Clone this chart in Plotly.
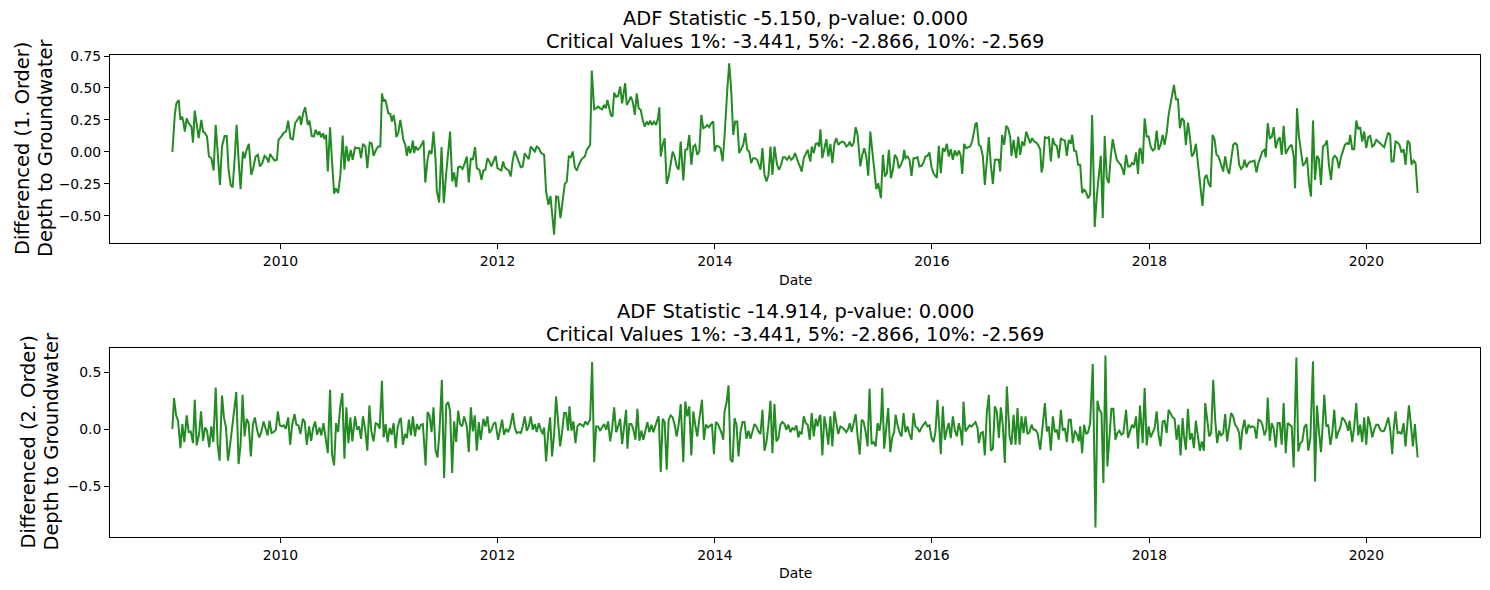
import datetime as dt
import plotly.graph_objects as go

# ---------------- data ----------------
# decimal years / values of the 1st-order differenced series
top_years = [
    2009.004, 2009.026, 2009.041, 2009.062, 2009.078, 2009.093, 2009.105, 2009.118, 2009.136, 2009.154,
    2009.179, 2009.194, 2009.210, 2009.228, 2009.246, 2009.271, 2009.286, 2009.301, 2009.323, 2009.341,
    2009.363, 2009.384, 2009.403, 2009.424, 2009.442, 2009.461, 2009.485, 2009.504, 2009.522, 2009.541,
    2009.559, 2009.577, 2009.596, 2009.614, 2009.632, 2009.654, 2009.669, 2009.688, 2009.709, 2009.731,
    2009.749, 2009.770, 2009.792, 2009.810, 2009.832, 2009.853, 2009.875, 2009.890, 2009.905, 2009.924,
    2009.945, 2009.967, 2009.982, 2010.006, 2010.031, 2010.052, 2010.071, 2010.092, 2010.114, 2010.135,
    2010.160, 2010.178, 2010.190, 2010.209, 2010.227, 2010.252, 2010.267, 2010.288, 2010.307, 2010.325,
    2010.344, 2010.359, 2010.374, 2010.393, 2010.405, 2010.420, 2010.436, 2010.457, 2010.475, 2010.494,
    2010.509, 2010.531, 2010.552, 2010.573, 2010.589, 2010.607, 2010.626, 2010.647, 2010.665, 2010.687,
    2010.708, 2010.727, 2010.742, 2010.760, 2010.782, 2010.800, 2010.822, 2010.840, 2010.858, 2010.880,
    2010.901, 2010.920,
    2010.935, 2010.950, 2010.963, 2010.975, 2010.993, 2011.012, 2011.027, 2011.042, 2011.058, 2011.067,
    2011.085, 2011.104, 2011.119, 2011.131, 2011.150, 2011.165, 2011.180, 2011.196, 2011.208, 2011.220,
    2011.232, 2011.245, 2011.263, 2011.281, 2011.300, 2011.318, 2011.334, 2011.355, 2011.373, 2011.392,
    2011.410, 2011.429, 2011.441, 2011.462, 2011.484, 2011.505, 2011.527, 2011.545, 2011.563, 2011.582,
    2011.600, 2011.619, 2011.637, 2011.655, 2011.677, 2011.698, 2011.717, 2011.735, 2011.754, 2011.772,
    2011.793, 2011.809, 2011.833, 2011.852, 2011.870, 2011.888, 2011.907, 2011.925, 2011.944, 2011.962,
    2011.983, 2011.999, 2012.017, 2012.035, 2012.051, 2012.066, 2012.085, 2012.103, 2012.121, 2012.140,
    2012.158, 2012.176, 2012.195, 2012.213, 2012.232, 2012.250, 2012.268, 2012.287, 2012.305, 2012.324,
    2012.342, 2012.360, 2012.379, 2012.397, 2012.416, 2012.428, 2012.446, 2012.468, 2012.486, 2012.501,
    2012.520, 2012.538, 2012.557, 2012.578, 2012.599, 2012.618, 2012.636, 2012.655, 2012.673, 2012.691,
    2012.710, 2012.728, 2012.747, 2012.765, 2012.783, 2012.802, 2012.820, 2012.839,
    2012.851, 2012.866, 2012.888, 2012.906, 2012.924, 2012.943, 2012.961, 2012.980, 2012.995, 2013.010,
    2013.026, 2013.041, 2013.056, 2013.072, 2013.090, 2013.108, 2013.127, 2013.145, 2013.157, 2013.173,
    2013.188, 2013.206, 2013.225, 2013.243, 2013.262, 2013.280, 2013.298, 2013.317, 2013.335, 2013.353,
    2013.372, 2013.390, 2013.403, 2013.421, 2013.439, 2013.458, 2013.476, 2013.488, 2013.501, 2013.519,
    2013.537, 2013.556, 2013.574, 2013.593, 2013.611, 2013.629, 2013.648, 2013.666, 2013.685, 2013.709,
    2013.727, 2013.746, 2013.764, 2013.783, 2013.801, 2013.819, 2013.838, 2013.856, 2013.875, 2013.893,
    2013.911, 2013.930, 2013.948, 2013.966, 2013.985, 2013.997, 2014.015, 2014.034, 2014.052, 2014.071,
    2014.089, 2014.114, 2014.132, 2014.150, 2014.169, 2014.187, 2014.206, 2014.224, 2014.242, 2014.261,
    2014.279, 2014.298, 2014.316, 2014.334, 2014.353, 2014.371, 2014.389, 2014.408, 2014.420, 2014.438,
    2014.457, 2014.475, 2014.494, 2014.512, 2014.530, 2014.549, 2014.573, 2014.592, 2014.610, 2014.628,
    2014.647, 2014.665, 2014.684, 2014.702, 2014.720, 2014.739, 2014.757, 2014.776,
    2014.782, 2014.800, 2014.819, 2014.837, 2014.855, 2014.868, 2014.880, 2014.892, 2014.911, 2014.929,
    2014.947, 2014.960, 2014.972, 2014.990, 2015.009, 2015.027, 2015.045, 2015.064, 2015.082, 2015.101,
    2015.119, 2015.137, 2015.156, 2015.174, 2015.193, 2015.211, 2015.229, 2015.242, 2015.260, 2015.278,
    2015.297, 2015.315, 2015.327, 2015.340, 2015.358, 2015.376, 2015.395, 2015.413, 2015.432, 2015.450,
    2015.468, 2015.487, 2015.505, 2015.517, 2015.530, 2015.548, 2015.566, 2015.585, 2015.603, 2015.622,
    2015.640, 2015.658, 2015.677, 2015.695, 2015.714, 2015.732, 2015.744, 2015.756, 2015.775, 2015.793,
    2015.812, 2015.830, 2015.848, 2015.867, 2015.885, 2015.904, 2015.922, 2015.940, 2015.959, 2015.977,
    2015.996, 2016.014, 2016.032, 2016.045, 2016.063, 2016.081, 2016.100, 2016.118, 2016.137, 2016.155,
    2016.173, 2016.192, 2016.210, 2016.229, 2016.247, 2016.265, 2016.278, 2016.296, 2016.314, 2016.333,
    2016.351, 2016.369, 2016.382, 2016.400, 2016.412, 2016.431, 2016.449, 2016.468, 2016.486, 2016.504,
    2016.523, 2016.541, 2016.560, 2016.578, 2016.596, 2016.615, 2016.627, 2016.645, 2016.664, 2016.682,
    2016.700, 2016.719,
    2016.731, 2016.750, 2016.762, 2016.774, 2016.793, 2016.811, 2016.829, 2016.848, 2016.866, 2016.884,
    2016.903, 2016.921, 2016.940, 2016.958, 2016.976, 2016.995, 2017.007, 2017.019, 2017.038, 2017.056,
    2017.074, 2017.093, 2017.111, 2017.130, 2017.148, 2017.166, 2017.185, 2017.203, 2017.222, 2017.240,
    2017.258, 2017.277, 2017.289, 2017.307, 2017.326, 2017.344, 2017.363, 2017.381, 2017.399, 2017.418,
    2017.436, 2017.455, 2017.473, 2017.485, 2017.497, 2017.516, 2017.534, 2017.553, 2017.571, 2017.589,
    2017.608, 2017.626, 2017.645, 2017.663, 2017.681, 2017.700, 2017.718, 2017.737, 2017.755, 2017.767,
    2017.786, 2017.804, 2017.822, 2017.841, 2017.859, 2017.878, 2017.896, 2017.908, 2017.920, 2017.939,
    2017.957, 2017.976, 2017.994, 2018.012, 2018.031, 2018.049, 2018.068, 2018.086, 2018.104, 2018.123,
    2018.141, 2018.160, 2018.178, 2018.196, 2018.215, 2018.227, 2018.245, 2018.264, 2018.282, 2018.300,
    2018.319, 2018.337, 2018.356, 2018.374, 2018.392, 2018.411, 2018.429, 2018.448, 2018.466, 2018.490,
    2018.509, 2018.527, 2018.546, 2018.564, 2018.583, 2018.601, 2018.619, 2018.638,
    2018.662, 2018.681, 2018.699, 2018.717, 2018.736, 2018.754, 2018.773, 2018.791, 2018.809, 2018.828,
    2018.846, 2018.865, 2018.877, 2018.895, 2018.914, 2018.932, 2018.950, 2018.969, 2018.987, 2019.005,
    2019.024, 2019.042, 2019.061, 2019.073, 2019.091, 2019.110, 2019.128, 2019.146, 2019.165, 2019.183,
    2019.202, 2019.220, 2019.238, 2019.257, 2019.275, 2019.294, 2019.312, 2019.330, 2019.343, 2019.361,
    2019.379, 2019.398, 2019.416, 2019.435, 2019.453, 2019.471, 2019.490, 2019.508, 2019.527, 2019.545,
    2019.563, 2019.582, 2019.600, 2019.619, 2019.637, 2019.655, 2019.674, 2019.692, 2019.710, 2019.729,
    2019.747, 2019.766, 2019.784, 2019.802, 2019.821, 2019.839, 2019.851, 2019.870, 2019.888, 2019.907,
    2019.925, 2019.943, 2019.962, 2019.980, 2019.999, 2020.017, 2020.035, 2020.054, 2020.072, 2020.091,
    2020.109, 2020.127, 2020.146, 2020.164, 2020.182, 2020.201, 2020.219, 2020.231, 2020.250, 2020.268,
    2020.287, 2020.305, 2020.323, 2020.342, 2020.360, 2020.379, 2020.397, 2020.415, 2020.434, 2020.452,
    2020.471,
]
top_values = [
    0.000, 0.289, 0.380, 0.406, 0.250, 0.276, 0.237, 0.159, 0.263, 0.224,
    0.198, 0.073, 0.323, 0.198, 0.107, 0.250, 0.159, 0.151, 0.120, -0.036,
    -0.049, -0.146, 0.211, -0.036, -0.258, 0.042, 0.125, 0.125, -0.140, -0.258,
    -0.279, -0.062, 0.211, -0.062, -0.292, 0.003, -0.049, 0.016, 0.063, -0.180,
    -0.128, -0.036, -0.023, -0.114, -0.088, -0.031, -0.049, -0.083, -0.016, -0.042,
    -0.068, -0.062, 0.094, 0.120, 0.151, 0.159, 0.245, 0.107, 0.099, 0.224,
    0.263, 0.281, 0.211, 0.302, 0.349, 0.211, 0.245, 0.125, 0.120, 0.172,
    0.133, 0.159, 0.115, 0.146, 0.099, 0.133, -0.154, 0.193, -0.075, -0.328,
    -0.284, -0.323, -0.180, 0.128, -0.140, 0.047, -0.075, 0.016, -0.062, 0.034,
    0.029, 0.029, -0.049, 0.063, 0.042, -0.128, 0.073, 0.068, -0.031, 0.016,
    0.042, 0.042,
    0.458, 0.393, 0.412, 0.380, 0.302, 0.297, 0.237, 0.289, 0.211, 0.115,
    0.146, 0.250, 0.172, 0.099, 0.055, -0.031, 0.047, -0.010, 0.029, 0.089,
    -0.010, 0.042, 0.016, 0.029, 0.055, 0.089, -0.240, -0.062, 0.011, -0.016,
    0.159, -0.062, -0.310, -0.396, 0.037, -0.401, -0.167, 0.016, 0.159, -0.232,
    -0.161, -0.276, -0.120, -0.114, -0.135, -0.088, -0.036, -0.240, -0.049, -0.062,
    0.037, -0.128, -0.140, -0.219, -0.146, -0.140, -0.049, -0.075, -0.114, -0.075,
    -0.031, -0.128, -0.135, -0.146, -0.075, -0.120, -0.135, -0.146, -0.193, -0.062,
    0.008, -0.036, -0.088, -0.120, -0.114, -0.010, -0.036, -0.057, 0.042, 0.021,
    0.003, 0.042, 0.029, -0.005, -0.016, -0.023, -0.310, -0.414, -0.344, -0.474,
    -0.648, -0.349, -0.354, -0.518, -0.349, -0.250, -0.232, -0.036, -0.042, 0.003,
    -0.120, -0.146, -0.101, -0.068, -0.049, -0.036, 0.016, 0.047,
    0.055, 0.636, 0.333, 0.341, 0.354, 0.341, 0.333, 0.367, 0.341, 0.406,
    0.341, 0.289, 0.276, 0.464, 0.432, 0.438, 0.511, 0.380, 0.445, 0.537,
    0.367, 0.393, 0.432, 0.393, 0.289, 0.458, 0.341, 0.328, 0.250, 0.198,
    0.237, 0.211, 0.245, 0.211, 0.237, 0.211, 0.263, 0.349, -0.036, 0.055,
    0.107, -0.250, -0.193, -0.088, 0.003, -0.036, -0.114, -0.140, 0.081, -0.224,
    0.016, 0.021, 0.133, -0.101, 0.042, 0.055, -0.023, 0.003, 0.289, 0.185,
    0.193, 0.211, 0.193, 0.224, 0.237, 0.003, 0.047, 0.042, 0.029, -0.075,
    0.120, 0.484, 0.693, 0.484, 0.133, 0.237, 0.237, -0.010, 0.029, 0.055,
    0.146, 0.016, 0.003, -0.088, -0.049, -0.049, -0.062, -0.101, -0.140, 0.029,
    -0.180, -0.232, -0.180, 0.042, -0.180, 0.042, -0.101, -0.140, -0.101, -0.042,
    -0.042, -0.062, -0.036, -0.062, -0.049, -0.010, -0.062, -0.101,
    -0.109, -0.154, -0.049, -0.010, 0.016, -0.036, -0.075, 0.042, -0.010, 0.063,
    0.068, 0.042, 0.177, -0.049, 0.042, 0.099, -0.036, 0.063, -0.088, 0.063,
    0.107, 0.055, 0.073, 0.081, 0.073, 0.042, 0.055, 0.081, 0.042, 0.068,
    0.193, 0.133, 0.016, -0.114, -0.023, 0.029, -0.036, -0.187, 0.159, 0.016,
    -0.120, -0.292, -0.245, -0.297, -0.362, -0.023, -0.193, -0.167, 0.016, -0.206,
    -0.140, -0.023, -0.049, -0.128, -0.101, -0.062, 0.016, -0.049, -0.036, -0.062,
    -0.187, -0.049, -0.049, -0.042, -0.114, -0.109, -0.083, -0.036, -0.031, -0.005,
    -0.120, -0.167, -0.193, -0.203, 0.047, -0.167, 0.029, 0.003, 0.063, -0.036,
    0.021, -0.062, 0.011, -0.031, 0.011, -0.031, -0.172, 0.063, 0.029, 0.037,
    0.042, 0.081, 0.146, 0.219, 0.229, 0.055, 0.042, -0.036, -0.258, -0.062,
    0.115, -0.101, -0.250, -0.062, -0.062, -0.062, -0.154, 0.133, 0.055, 0.203,
    0.185, 0.115,
    -0.031, 0.094, 0.016, -0.049, 0.120, -0.023, 0.081, 0.047, 0.159, 0.107,
    0.068, 0.107, 0.081, 0.073, 0.055, 0.016, -0.161, -0.114, 0.115, 0.107,
    0.115, -0.075, 0.107, 0.055, 0.047, -0.049, 0.107, 0.094, 0.089, -0.031,
    0.094, 0.063, 0.133, 0.011, 0.003, -0.101, -0.101, -0.323, -0.292, -0.318,
    -0.362, -0.336, 0.289, -0.114, -0.588, -0.349, -0.167, -0.031, -0.518, 0.125,
    -0.206, -0.245, -0.036, 0.099, 0.016, -0.062, -0.083, -0.101, -0.140, -0.180,
    -0.023, -0.114, -0.114, -0.088, -0.101, -0.005, -0.172, 0.016, 0.029, -0.094,
    0.263, 0.120, 0.120, 0.042, 0.011, 0.021, 0.167, 0.016, 0.055, 0.133,
    0.055, 0.146, 0.289, 0.367, 0.445, 0.524, 0.412, 0.412, 0.185, 0.263,
    0.245, 0.055, 0.229, 0.120, -0.036, -0.010, 0.063, -0.088, -0.232, -0.422,
    -0.206, -0.180, -0.245, -0.276, 0.133, 0.099, -0.023, -0.036,
    -0.101, -0.154, -0.036, -0.128, -0.172, -0.062, 0.055, 0.068, 0.055, -0.101,
    -0.135, -0.114, -0.062, -0.120, -0.088, -0.075, -0.075, -0.068, -0.161, -0.088,
    -0.031, 0.003, 0.016, -0.042, 0.224, 0.107, 0.115, 0.193, 0.029, 0.089,
    0.115, -0.023, 0.203, -0.016, 0.016, 0.042, 0.055, -0.031, -0.284, 0.341,
    0.120, -0.010, -0.109, -0.088, -0.042, -0.245, -0.349, 0.245, -0.219, -0.031,
    -0.057, -0.258, 0.042, 0.055, 0.089, -0.101, -0.219, -0.049, -0.031, -0.049,
    -0.128, -0.042, 0.003, 0.055, 0.068, 0.063, 0.133, 0.021, 0.021, 0.245,
    0.177, 0.193, 0.081, 0.159, 0.029, 0.115, 0.125, 0.042, 0.055, 0.094,
    0.081, 0.068, 0.047, 0.037, 0.094, 0.151, 0.133, -0.075, -0.075, 0.081,
    0.073, 0.055, -0.005, 0.021, -0.101, 0.089, 0.068, -0.101, -0.068, -0.088,
    -0.323,
]

# decimal years / values of the 2nd-order differenced series
bottom_years = [
    2009.004, 2009.019, 2009.038, 2009.056, 2009.078, 2009.096, 2009.114, 2009.136, 2009.154, 2009.173,
    2009.194, 2009.210, 2009.228, 2009.249, 2009.268, 2009.286, 2009.305, 2009.323, 2009.344, 2009.363,
    2009.381, 2009.403, 2009.421, 2009.439, 2009.461, 2009.479, 2009.498, 2009.516, 2009.534, 2009.553,
    2009.571, 2009.593, 2009.614, 2009.632, 2009.651, 2009.669, 2009.688, 2009.706, 2009.727, 2009.746,
    2009.764, 2009.786, 2009.804, 2009.823, 2009.844, 2009.862, 2009.881, 2009.899, 2009.918, 2009.936,
    2009.957, 2009.976, 2009.994, 2010.013, 2010.031, 2010.049, 2010.071, 2010.089, 2010.108, 2010.129,
    2010.147, 2010.166, 2010.184, 2010.206, 2010.224, 2010.242, 2010.264, 2010.282, 2010.301, 2010.319,
    2010.337, 2010.359, 2010.377, 2010.396, 2010.414, 2010.436, 2010.457, 2010.475, 2010.494, 2010.512,
    2010.531, 2010.549, 2010.570, 2010.589, 2010.607, 2010.626, 2010.644, 2010.662, 2010.687, 2010.705,
    2010.724, 2010.742, 2010.760, 2010.779, 2010.800, 2010.819, 2010.837, 2010.858, 2010.877, 2010.895,
    2010.914,
    2010.935, 2010.950, 2010.969, 2010.987, 2011.006, 2011.024, 2011.042, 2011.061, 2011.079, 2011.098,
    2011.110, 2011.128, 2011.147, 2011.165, 2011.183, 2011.202, 2011.220, 2011.239, 2011.257, 2011.275,
    2011.294, 2011.312, 2011.337, 2011.355, 2011.373, 2011.392, 2011.410, 2011.429, 2011.447, 2011.465,
    2011.487, 2011.508, 2011.527, 2011.545, 2011.563, 2011.582, 2011.600, 2011.619, 2011.637, 2011.655,
    2011.674, 2011.692, 2011.717, 2011.735, 2011.754, 2011.772, 2011.790, 2011.809, 2011.827, 2011.845,
    2011.870, 2011.888, 2011.907, 2011.925, 2011.944, 2011.962, 2011.980, 2012.005, 2012.023, 2012.042,
    2012.060, 2012.078, 2012.097, 2012.115, 2012.140, 2012.158, 2012.176, 2012.195, 2012.213, 2012.232,
    2012.250, 2012.268, 2012.287, 2012.305, 2012.324, 2012.342, 2012.360, 2012.379, 2012.397, 2012.416,
    2012.428, 2012.446, 2012.465, 2012.483, 2012.501, 2012.520, 2012.538, 2012.557, 2012.575, 2012.593,
    2012.612, 2012.630, 2012.648, 2012.661, 2012.679, 2012.697, 2012.716, 2012.734, 2012.753, 2012.771,
    2012.789, 2012.808, 2012.826, 2012.845,
    2012.851, 2012.869, 2012.888, 2012.906, 2012.924, 2012.943, 2012.961, 2012.980, 2012.998, 2013.016,
    2013.035, 2013.053, 2013.072, 2013.090, 2013.108, 2013.127, 2013.145, 2013.163, 2013.182, 2013.194,
    2013.212, 2013.231, 2013.249, 2013.268, 2013.286, 2013.304, 2013.323, 2013.341, 2013.360, 2013.378,
    2013.396, 2013.415, 2013.433, 2013.452, 2013.470, 2013.482, 2013.501, 2013.519, 2013.537, 2013.556,
    2013.574, 2013.593, 2013.611, 2013.629, 2013.648, 2013.666, 2013.685, 2013.709, 2013.727, 2013.746,
    2013.764, 2013.783, 2013.801, 2013.819, 2013.838, 2013.856, 2013.881, 2013.899, 2013.917, 2013.936,
    2013.954, 2013.973, 2013.991, 2014.009, 2014.028, 2014.046, 2014.065, 2014.077, 2014.089, 2014.107,
    2014.126, 2014.144, 2014.163, 2014.181, 2014.199, 2014.218, 2014.236, 2014.255, 2014.273, 2014.291,
    2014.310, 2014.328, 2014.347, 2014.365, 2014.383, 2014.402, 2014.420, 2014.438, 2014.457, 2014.475,
    2014.494, 2014.512, 2014.530, 2014.549, 2014.567, 2014.586, 2014.604, 2014.622, 2014.641, 2014.659,
    2014.677, 2014.696, 2014.714, 2014.733, 2014.751, 2014.769,
    2014.782, 2014.800, 2014.819, 2014.837, 2014.855, 2014.874, 2014.892, 2014.911, 2014.929, 2014.947,
    2014.960, 2014.972, 2014.990, 2015.009, 2015.027, 2015.045, 2015.064, 2015.082, 2015.101, 2015.119,
    2015.137, 2015.156, 2015.174, 2015.193, 2015.211, 2015.229, 2015.242, 2015.260, 2015.278, 2015.297,
    2015.315, 2015.334, 2015.352, 2015.370, 2015.389, 2015.407, 2015.425, 2015.444, 2015.462, 2015.481,
    2015.499, 2015.517, 2015.530, 2015.542, 2015.560, 2015.579, 2015.597, 2015.616, 2015.634, 2015.652,
    2015.665, 2015.683, 2015.701, 2015.720, 2015.738, 2015.756, 2015.775, 2015.793, 2015.812, 2015.830,
    2015.848, 2015.867, 2015.885, 2015.904, 2015.922, 2015.940, 2015.959, 2015.977, 2015.996, 2016.014,
    2016.032, 2016.051, 2016.069, 2016.081, 2016.100, 2016.118, 2016.137, 2016.155, 2016.173, 2016.192,
    2016.210, 2016.229, 2016.247, 2016.265, 2016.278, 2016.290, 2016.308, 2016.327, 2016.345, 2016.363,
    2016.382, 2016.400, 2016.419, 2016.431, 2016.449, 2016.468, 2016.486, 2016.504, 2016.523, 2016.541,
    2016.560, 2016.578, 2016.596, 2016.615, 2016.633, 2016.651, 2016.670, 2016.688, 2016.707,
    2016.713, 2016.731, 2016.750, 2016.768, 2016.786, 2016.805, 2016.823, 2016.842, 2016.860, 2016.878,
    2016.897, 2016.915, 2016.934, 2016.952, 2016.970, 2016.995, 2017.019, 2017.038, 2017.056, 2017.074,
    2017.093, 2017.111, 2017.130, 2017.148, 2017.166, 2017.185, 2017.203, 2017.222, 2017.240, 2017.258,
    2017.277, 2017.295, 2017.314, 2017.332, 2017.350, 2017.363, 2017.381, 2017.399, 2017.418, 2017.436,
    2017.455, 2017.479, 2017.504, 2017.522, 2017.540, 2017.559, 2017.577, 2017.596, 2017.614, 2017.632,
    2017.651, 2017.669, 2017.688, 2017.706, 2017.724, 2017.743, 2017.761, 2017.786, 2017.804, 2017.822,
    2017.841, 2017.859, 2017.878, 2017.896, 2017.914, 2017.939, 2017.957, 2017.976, 2017.994, 2018.012,
    2018.031, 2018.049, 2018.068, 2018.086, 2018.104, 2018.123, 2018.141, 2018.160, 2018.178, 2018.196,
    2018.215, 2018.233, 2018.251, 2018.270, 2018.288, 2018.307, 2018.319, 2018.337, 2018.356, 2018.374,
    2018.392, 2018.411, 2018.429, 2018.448, 2018.466, 2018.484, 2018.503, 2018.515, 2018.533, 2018.552,
    2018.570, 2018.589, 2018.607, 2018.625, 2018.644,
    2018.662, 2018.681, 2018.699, 2018.717, 2018.736, 2018.754, 2018.773, 2018.791, 2018.809, 2018.828,
    2018.840, 2018.858, 2018.877, 2018.895, 2018.914, 2018.932, 2018.950, 2018.969, 2018.987, 2019.005,
    2019.024, 2019.042, 2019.061, 2019.079, 2019.091, 2019.110, 2019.128, 2019.146, 2019.165, 2019.183,
    2019.202, 2019.220, 2019.238, 2019.257, 2019.275, 2019.294, 2019.312, 2019.330, 2019.355, 2019.373,
    2019.392, 2019.410, 2019.428, 2019.447, 2019.465, 2019.484, 2019.508, 2019.527, 2019.545, 2019.563,
    2019.582, 2019.600, 2019.612, 2019.631, 2019.649, 2019.668, 2019.686, 2019.704, 2019.723, 2019.741,
    2019.760, 2019.778, 2019.796, 2019.815, 2019.833, 2019.845, 2019.870, 2019.888, 2019.907, 2019.925,
    2019.943, 2019.962, 2019.980, 2019.999, 2020.017, 2020.035, 2020.054, 2020.072, 2020.091, 2020.109,
    2020.127, 2020.146, 2020.164, 2020.182, 2020.201, 2020.219, 2020.238, 2020.250, 2020.268, 2020.287,
    2020.305, 2020.323, 2020.342, 2020.360, 2020.379, 2020.391, 2020.409, 2020.428, 2020.446, 2020.471,
]
bottom_values = [
    0.000, 0.272, 0.120, 0.073, -0.167, 0.044, -0.114, 0.120, -0.027, -0.021,
    -0.123, 0.257, -0.143, -0.050, 0.155, -0.103, 0.014, -0.015, -0.161, 0.023,
    -0.114, 0.365, -0.138, -0.278, 0.295, 0.102, 0.014, -0.278, -0.152, 0.009,
    0.178, 0.324, -0.307, -0.138, 0.301, -0.065, 0.090, 0.052, -0.240, 0.038,
    0.102, -0.015, -0.073, -0.027, 0.067, 0.003, -0.056, 0.073, -0.035, -0.027,
    -0.006, 0.155, 0.032, 0.023, 0.032, 0.003, 0.102, -0.138, 0.038, 0.131,
    0.038, 0.032, -0.044, 0.090, 0.061, -0.138, 0.023, -0.103, 0.009, 0.067,
    -0.050, 0.014, -0.056, 0.052, -0.050, -0.211, 0.345, -0.225, -0.319, 0.052,
    -0.027, 0.184, 0.316, -0.261, 0.190, -0.123, 0.102, -0.108, 0.111, -0.006,
    0.023, -0.085, 0.111, 0.009, -0.190, 0.207, -0.021, -0.108, 0.052, 0.044,
    0.003,
    0.424, -0.073, 0.044, -0.114, 0.009, -0.050, 0.052, -0.167, 0.009, 0.082,
    0.096, -0.138, -0.044, -0.079, 0.082, -0.056, 0.111, -0.065, 0.044, -0.006,
    0.038, 0.044, -0.319, 0.149, 0.120, -0.027, 0.190, -0.190, -0.249, -0.021,
    0.433, -0.430, 0.213, 0.237, 0.155, -0.386, 0.067, -0.114, 0.161, 0.044,
    0.023, 0.111, 0.023, -0.202, 0.190, -0.021, 0.120, -0.190, 0.061, -0.094,
    0.090, 0.023, 0.111, -0.035, -0.006, 0.044, 0.061, -0.094, -0.006, 0.082,
    -0.050, 0.003, -0.027, 0.014, 0.140, 0.014, -0.035, -0.027, -0.035, 0.023,
    0.111, -0.015, 0.023, 0.111, -0.006, 0.044, -0.027, 0.052, -0.006, -0.044,
    0.014, -0.284, -0.044, 0.102, -0.240, -0.044, 0.286, 0.052, -0.152, -0.027,
    0.140, 0.140, -0.015, 0.199, -0.015, 0.067, -0.123, 0.023, 0.044, 0.038,
    0.023, 0.067, 0.038, 0.073,
    0.082, 0.587, -0.290, 0.023, 0.023, -0.015, 0.009, 0.044, -0.006, 0.067,
    -0.108, 0.003, 0.190, -0.027, 0.023, 0.090, -0.132, 0.023, 0.169, -0.173,
    0.044, 0.044, -0.006, -0.094, 0.178, -0.103, -0.015, -0.094, -0.015, 0.061,
    -0.027, 0.038, -0.027, 0.038, 0.082, 0.111, -0.377, 0.090, 0.061, -0.357,
    0.082, 0.120, 0.102, 0.038, -0.065, 0.038, 0.219, -0.290, 0.242, 0.111,
    0.199, -0.231, 0.155, 0.038, -0.065, 0.082, 0.257, -0.094, 0.038, 0.014,
    0.032, 0.044, -0.220, 0.061, 0.044, 0.003, -0.044, -0.094, 0.155, 0.228,
    0.383, -0.269, -0.290, 0.096, 0.038, -0.240, -0.027, 0.061, 0.061, -0.085,
    -0.015, -0.085, -0.027, 0.044, 0.023, -0.021, -0.044, 0.169, -0.190, -0.114,
    0.044, 0.248, -0.211, 0.219, -0.108, -0.079, 0.038, 0.061, 0.044, -0.006,
    0.038, -0.027, 0.009, -0.006, 0.032, -0.073,
    -0.027, -0.044, 0.111, 0.052, 0.038, -0.094, 0.140, -0.065, 0.090, 0.023,
    0.096, 0.125, -0.231, 0.111, 0.009, -0.138, 0.111, -0.152, 0.155, 0.038,
    -0.044, 0.023, 0.014, -0.006, -0.027, 0.003, 0.052, -0.027, 0.052, 0.131,
    -0.065, -0.225, 0.082, 0.067, -0.027, -0.152, 0.354, -0.132, -0.114, -0.152,
    0.052, -0.015, 0.073, 0.359, -0.173, 0.003, 0.184, -0.202, -0.073, -0.027,
    0.125, 0.038, -0.027, -0.065, 0.140, -0.027, 0.023, -0.044, -0.094, 0.140,
    0.023, 0.009, -0.027, 0.014, 0.044, 0.061, 0.023, 0.032, -0.079, -0.114,
    -0.027, 0.257, -0.015, -0.220, 0.199, -0.094, -0.006, 0.052, -0.079, 0.111,
    -0.006, -0.065, 0.052, -0.027, -0.143, 0.242, -0.021, 0.009, 0.032, 0.023,
    0.044, 0.061, 0.009, -0.123, -0.035, -0.027, -0.231, 0.140, 0.301, -0.190,
    -0.173, 0.199, 0.155, -0.079, 0.190, 0.038, -0.298, 0.374, 0.052,
    -0.065, -0.138, 0.125, -0.138, 0.184, -0.138, 0.111, -0.035, 0.111, -0.044,
    -0.027, 0.038, -0.006, -0.006, -0.035, -0.182, 0.073, 0.228, -0.021, 0.023,
    -0.190, 0.111, -0.027, -0.006, -0.094, 0.169, -0.015, 0.009, -0.114, 0.082,
    0.082, -0.123, -0.015, -0.044, -0.108, 0.023, -0.211, 0.038, -0.044, -0.027,
    0.052, 0.570, -0.863, 0.248, 0.169, 0.140, -0.474, 0.646, -0.328, -0.035,
    0.178, 0.178, -0.094, -0.035, -0.015, -0.050, -0.035, 0.169, -0.079, -0.021,
    0.038, 0.009, 0.111, -0.173, 0.207, -0.123, 0.359, -0.143, 0.023, -0.073,
    -0.027, 0.009, 0.155, -0.056, -0.152, 0.067, 0.073, -0.035, 0.169, 0.140,
    0.102, 0.090, -0.094, 0.038, -0.231, 0.096, -0.056, -0.182, 0.178, -0.094,
    -0.035, -0.167, 0.073, -0.065, -0.190, -0.108, -0.190, 0.228, 0.096, -0.065,
    -0.035, 0.432, 0.082, -0.123, -0.015,
    -0.056, -0.035, 0.131, -0.108, 0.009, 0.140, 0.111, 0.038, 0.014, -0.035,
    -0.182, -0.006, 0.082, -0.044, 0.038, 0.014, 0.023, 0.014, -0.085, 0.082,
    0.073, 0.038, -0.056, -0.006, 0.277, -0.103, 0.052, 0.003, -0.161, 0.052,
    0.052, -0.138, 0.228, -0.211, 0.052, 0.038, 0.023, -0.337, 0.628, -0.196,
    -0.123, -0.108, 0.014, 0.044, -0.190, -0.079, 0.593, -0.459, 0.207, -0.021,
    -0.202, 0.073, 0.301, 0.023, 0.038, -0.138, -0.035, 0.169, -0.085, -0.027,
    0.014, 0.102, 0.082, 0.044, -0.015, 0.073, -0.114, 0.023, 0.228, -0.056,
    0.038, -0.114, 0.102, -0.138, 0.111, 0.038, -0.073, -0.006, 0.038, 0.038,
    -0.006, -0.021, -0.015, 0.038, 0.102, -0.006, -0.220, -0.015, 0.155, -0.035,
    -0.027, -0.044, 0.052, -0.152, 0.044, 0.207, 0.044, -0.152, 0.044, -0.249,
]

tick_years = [2010, 2012, 2014, 2016, 2018, 2020]
top_yticks = [-0.5, -0.25, 0.0, 0.25, 0.5, 0.75]
bottom_yticks = [-0.5, 0.0, 0.5]

top_title = ["ADF Statistic -5.150, p-value: 0.000",
             "Critical Values 1%: -3.441, 5%: -2.866, 10%: -2.569"]
bottom_title = ["ADF Statistic -14.914, p-value: 0.000",
                "Critical Values 1%: -3.441, 5%: -2.866, 10%: -2.569"]
top_ylabel = ["Differenced (1. Order)", "Depth to Groundwater"]
bottom_ylabel = ["Differenced (2. Order)", "Depth to Groundwater"]


# ---------------- helpers ----------------
def to_date(y):
    year = int(y)
    start = dt.datetime(year, 1, 1)
    span = dt.datetime(year + 1, 1, 1) - start
    return start + (y - year) * span


top_dates = [to_date(y) for y in top_years]
bottom_dates = [to_date(y) for y in bottom_years]

x_lo = min(top_years)
x_hi = max(top_years)
pad = 0.05 * (x_hi - x_lo)
x_range = [to_date(x_lo - pad), to_date(x_hi + pad)]

# page is shown with the browser's default 8px body margin
OFF = 8
PAGE_W, PAGE_H = 1490, 590
W, H = PAGE_W - 2 * OFF, PAGE_H - 2 * OFF
# target pixel positions on the page
PLOT_L, PLOT_R = 110, 1480
TOP_PX = (55, 243)
BOT_PX = (348, 537)

ML = PLOT_L - OFF
MR = W - (PLOT_R - OFF)
MT = TOP_PX[0] - OFF
MB = H - (BOT_PX[1] - OFF)
PW = W - ML - MR
PH = H - MT - MB


def ydom(px):
    return [1 - (px[1] - OFF - MT) / PH, 1 - (px[0] - OFF - MT) / PH]


def py(pix):
    return 1 - (pix - OFF - MT) / PH


def px_(pix):
    return (pix - OFF - ML) / PW


GREEN = "#228B22"
FONT = "DejaVu Sans"
TICK_SIZE = 13.9
TITLE_SIZE = 19.4

fig = go.Figure()
fig.add_trace(go.Scatter(x=top_dates, y=top_values, mode="lines",
                         line=dict(color=GREEN, width=2), xaxis="x", yaxis="y",
                         showlegend=False, hoverinfo="skip"))
fig.add_trace(go.Scatter(x=bottom_dates, y=bottom_values, mode="lines",
                         line=dict(color=GREEN, width=2), xaxis="x2", yaxis="y2",
                         showlegend=False, hoverinfo="skip"))

axis_common = dict(showline=True, mirror=True, linecolor="black", linewidth=1,
                   ticks="outside", ticklen=5, tickwidth=1, tickcolor="black",
                   showgrid=False, zeroline=False,
                   tickfont=dict(family=FONT, size=TICK_SIZE, color="black"))

tickvals_x = [dt.datetime(y, 1, 1) for y in tick_years]
ticktext_x = [str(y) for y in tick_years]

fig.update_layout(
    width=W, height=H,
    margin=dict(l=ML, r=MR, t=MT, b=MB),
    paper_bgcolor="white", plot_bgcolor="white",
    xaxis=dict(domain=[0, 1], anchor="y", range=x_range, type="date",
               tickvals=tickvals_x, ticktext=ticktext_x, **axis_common),
    yaxis=dict(domain=ydom(TOP_PX), anchor="x", range=[-0.713, 0.758],
               tickvals=top_yticks, tickformat=".2f", **axis_common),
    xaxis2=dict(domain=[0, 1], anchor="y2", range=x_range, type="date",
                tickvals=tickvals_x, ticktext=ticktext_x, **axis_common),
    yaxis2=dict(domain=ydom(BOT_PX), anchor="x2", range=[-0.947, 0.711],
                tickvals=bottom_yticks, tickformat=".1f", **axis_common),
)

ann = []
for text, ypix in zip(top_title, (18, 41)):
    ann.append(dict(text=text, x=0.5, y=py(ypix), xref="paper", yref="paper",
                    xanchor="center", yanchor="middle", showarrow=False,
                    font=dict(family=FONT, size=TITLE_SIZE, color="black")))
for text, ypix in zip(bottom_title, (311, 334)):
    ann.append(dict(text=text, x=0.5, y=py(ypix), xref="paper", yref="paper",
                    xanchor="center", yanchor="middle", showarrow=False,
                    font=dict(family=FONT, size=TITLE_SIZE, color="black")))
for text, xpix in zip(top_ylabel, (22, 45)):
    ann.append(dict(text=text, x=px_(xpix), y=py(149), xref="paper", yref="paper",
                    xanchor="center", yanchor="middle", textangle=-90, showarrow=False,
                    font=dict(family=FONT, size=TITLE_SIZE, color="black")))
for text, xpix in zip(bottom_ylabel, (28, 51)):
    ann.append(dict(text=text, x=px_(xpix), y=py(442.5), xref="paper", yref="paper",
                    xanchor="center", yanchor="middle", textangle=-90, showarrow=False,
                    font=dict(family=FONT, size=TITLE_SIZE, color="black")))
for ypix in (280, 573):
    ann.append(dict(text="Date", x=0.5, y=py(ypix), xref="paper", yref="paper",
                    xanchor="center", yanchor="middle", showarrow=False,
                    font=dict(family=FONT, size=TICK_SIZE, color="black")))
fig.update_layout(annotations=ann)

fig.write_html("out.html", config={"displayModeBar": False})
